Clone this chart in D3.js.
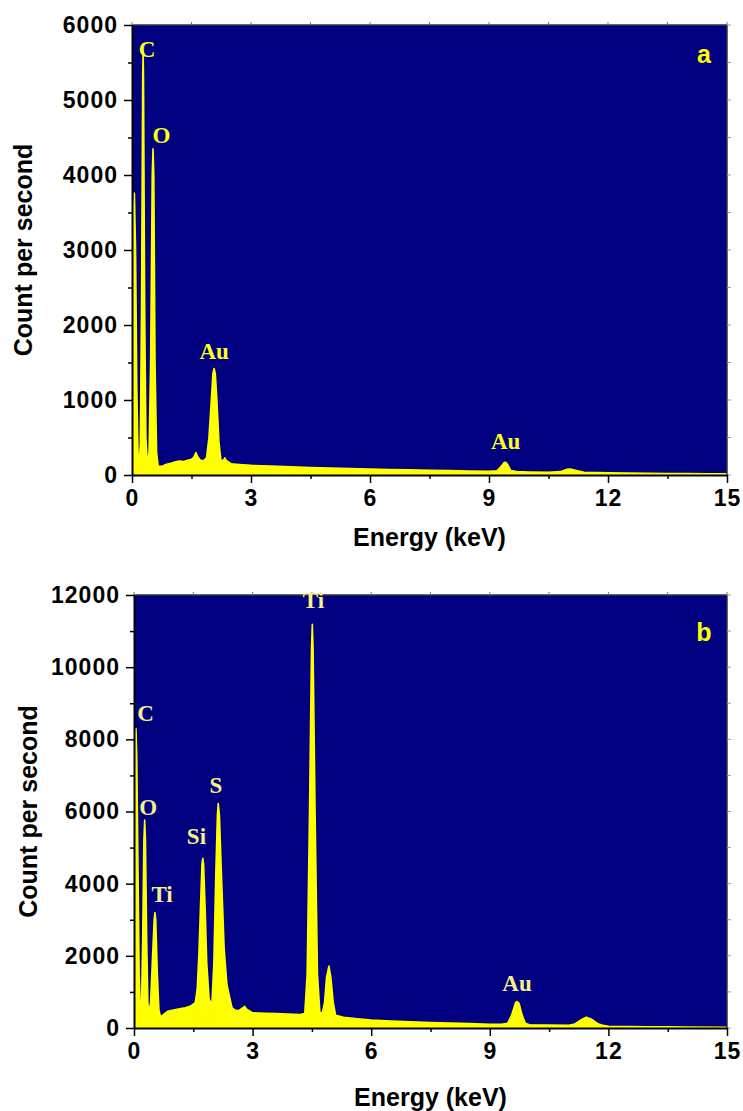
<!DOCTYPE html>
<html>
<head>
<meta charset="utf-8">
<script src="https://cdn.jsdelivr.net/npm/d3@7"></script>
<style>
  body { margin: 0; background: #fff; }
  svg text { font-family: "Liberation Sans", Arial, sans-serif; }
</style>
</head>
<body>
<div id="viz"></div>
<script>
// EDS spectra, two panels.

// panel a: energy (keV) and counts per second
const energyA = [0.00, 0.03, 0.06, 0.09, 0.12, 0.15, 0.18, 0.21, 0.24, 0.27, 0.28, 0.29, 0.32, 0.35, 0.39,
  0.43, 0.47, 0.51, 0.53, 0.55, 0.58, 0.62, 0.66, 0.75, 0.85, 1.0, 1.1, 1.2, 1.3, 1.4, 1.5, 1.56, 1.61, 1.66,
  1.72, 1.8, 1.88, 1.94, 2.0, 2.04, 2.07, 2.10, 2.14, 2.19, 2.24, 2.30, 2.34, 2.38, 2.5, 2.7, 3.0, 3.5, 4.0,
  4.5, 5.0, 5.5, 6.0, 6.5, 7.0, 7.5, 8.0, 8.5, 9.0, 9.2, 9.3, 9.38, 9.42, 9.47, 9.55, 9.7, 10.0, 10.5, 10.8,
  10.95, 11.05, 11.2, 11.4, 12.0, 12.5, 13.0, 13.5, 14.0, 14.5, 15.0];
const countA = [2800, 3400, 3760, 3000, 1200, 300, 160, 400, 2200, 5300, 5650, 5300, 2200, 500, 130,
  300, 1500, 4000, 4350, 4000, 1500, 300, 120, 115, 140, 160, 175, 185, 180, 195, 210, 240, 300, 240,
  200, 190, 230, 500, 1000, 1350, 1420, 1350, 1000, 450, 200, 190, 230, 190, 150, 140, 128, 118, 110,
  100, 92, 85, 78, 72, 68, 62, 58, 53, 50, 55, 110, 165, 170, 140, 60, 45, 40, 35, 45,
  75, 80, 60, 35, 30, 26, 24, 20, 18, 16, 15];

// panel b
const energyB = [0.00, 0.03, 0.05, 0.07, 0.10, 0.13, 0.16, 0.19, 0.22, 0.25, 0.27, 0.29, 0.32, 0.35, 0.38,
  0.42, 0.47, 0.51, 0.53, 0.55, 0.59, 0.63, 0.67, 0.75, 0.85, 1.0, 1.15, 1.3, 1.45, 1.55, 1.60, 1.64, 1.68,
  1.72, 1.74, 1.76, 1.80, 1.84, 1.90, 1.97, 2.02, 2.07, 2.11, 2.13, 2.16, 2.21, 2.28, 2.35, 2.43, 2.48, 2.55,
  2.65, 2.75, 2.80, 2.85, 3.0, 3.3, 3.6, 3.9, 4.2, 4.32, 4.38, 4.44, 4.49, 4.51, 4.53, 4.58, 4.64, 4.70,
  4.76, 4.82, 4.87, 4.93, 4.98, 5.04, 5.10, 5.3, 5.6, 6.0, 6.5, 7.0, 7.5, 8.0, 8.5, 9.0, 9.3, 9.45, 9.55,
  9.65, 9.69, 9.74, 9.82, 9.9, 10.0, 10.5, 11.0, 11.15, 11.3, 11.44, 11.58, 11.75, 11.9, 12.0, 12.5, 13.0,
  13.5, 14.0, 15.0];
const countB = [6000, 7800, 8300, 7500, 4500, 1500, 450, 600, 2500, 5200, 5760, 5200, 2500, 700, 440,
  700, 2000, 3000, 3200, 3000, 1500, 500, 300, 380, 460, 500, 530, 560, 620, 700, 1100, 2000, 3300,
  4550, 4700, 4550, 3300, 1800, 800, 640, 1800, 4300, 5900, 6220, 5900, 4300, 2200, 1200, 800, 560, 500,
  480, 560, 600, 520, 420, 410, 400, 390, 370, 400, 1500, 6000, 10500, 11190, 10500, 6000, 1500, 450,
  400, 700, 1400, 1717, 1400, 700, 350, 300, 260, 220, 195, 170, 150, 135, 120, 105, 100, 130, 350,
  700, 730, 680, 350, 130, 90, 80, 75, 110, 220, 300, 240, 110, 65, 45, 40, 35,
  30, 25, 20];

// peak labels
const labelsA = ["C", "O", "Au", "Au"];
const labelEnergyA = [0.38, 0.74, 2.07, 9.42];
const labelCountA = [5580, 4430, 1550, 350];

const labelsB = ["C", "O", "Ti", "Si", "S", "Ti", "Au"];
const labelEnergyB = [0.29, 0.36, 0.71, 1.58, 2.07, 4.54, 9.69];
const labelCountB = [8500, 5900, 3500, 5100, 6500, 11650, 1030];

// ticks
const xTicks = [0, 3, 6, 9, 12, 15];
const xMinor = [1.5, 4.5, 7.5, 10.5, 13.5];
const yTicksA = [0, 1000, 2000, 3000, 4000, 5000, 6000];
const yMinorA = [500, 1500, 2500, 3500, 4500, 5500];
const yTicksB = [0, 2000, 4000, 6000, 8000, 10000, 12000];
const yMinorB = [1000, 3000, 5000, 7000, 9000, 11000];

const svg = d3.select("#viz").append("svg")
  .attr("width", 743)
  .attr("height", 1111);

function drawPanel(p) {
  const x = d3.scaleLinear().domain([0, 15]).range([p.left, p.right]);
  const y = d3.scaleLinear().domain([0, p.ymax]).range([p.bottom, p.top]);
  const g = svg.append("g");

  //plot background
  g.append("rect")
    .attr("x", p.left).attr("y", p.top)
    .attr("width", p.right - p.left).attr("height", p.bottom - p.top)
    .attr("fill", "#000080");

  g.append("clipPath").attr("id", "clip" + p.id)
    .append("rect")
    .attr("x", p.left).attr("y", p.top)
    .attr("width", p.right - p.left).attr("height", p.bottom - p.top);

  const pts = p.energy.map((e, i) => [e, p.count[i]]);
  const area = d3.area()
    .x(d => x(d[0]))
    .y0(y(0))
    .y1(d => y(d[1]));
  g.append("path")
    .datum(pts)
    .attr("clip-path", `url(#clip${p.id})`)
    .attr("d", area)
    .attr("fill", "#ffff00")
    .attr("stroke", "#ffff00")
    .attr("stroke-width", 1.6)
    .attr("stroke-linejoin", "round");

  //top and right frame with small ticks
  g.append("line").attr("x1", p.left).attr("x2", p.right).attr("y1", p.top).attr("y2", p.top)
    .attr("stroke", "#333").attr("stroke-width", 1.5);
  g.append("line").attr("x1", p.right).attr("x2", p.right).attr("y1", p.top).attr("y2", p.bottom)
    .attr("stroke", "#333").attr("stroke-width", 1.5);
  g.selectAll(".rtick").data(p.yTicks.concat(p.yMinor)).enter().append("line")
    .attr("x1", p.right).attr("x2", p.right + 4)
    .attr("y1", d => y(d)).attr("y2", d => y(d))
    .attr("stroke", "#999").attr("stroke-width", 1);
  g.selectAll(".ttick").data(xTicks.concat(xMinor)).enter().append("line")
    .attr("x1", d => x(d)).attr("x2", d => x(d))
    .attr("y1", p.top).attr("y2", p.top - 3)
    .attr("stroke", "#777").attr("stroke-width", 1);

  //bottom axis
  const xAxis = g.append("g")
    .attr("transform", `translate(0,${p.bottom})`)
    .call(d3.axisBottom(x).tickValues(xTicks).tickSize(8).tickPadding(7).tickSizeOuter(0));
  g.append("g")
    .attr("transform", `translate(0,${p.bottom})`)
    .call(d3.axisBottom(x).tickValues(xMinor).tickSize(4).tickFormat("").tickSizeOuter(0))
    .select(".domain").remove();

  //left axis
  const yAxis = g.append("g")
    .attr("transform", `translate(${p.left},0)`)
    .call(d3.axisLeft(y).tickValues(p.yTicks).tickFormat(d3.format("d"))
      .tickSize(8).tickPadding(6).tickSizeOuter(0));
  g.append("g")
    .attr("transform", `translate(${p.left},0)`)
    .call(d3.axisLeft(y).tickValues(p.yMinor).tickSize(4).tickFormat("").tickSizeOuter(0))
    .select(".domain").remove();

  g.selectAll(".domain").attr("stroke", "#000").attr("stroke-width", 2);
  g.selectAll(".tick line").attr("stroke", "#000").attr("stroke-width", 1.5);

  xAxis.selectAll("text")
    .style("font-size", "23px").style("font-weight", "bold")
    .style("letter-spacing", "1px").attr("fill", "#000");
  yAxis.selectAll("text")
    .style("font-size", "23px").style("font-weight", "bold")
    .style("letter-spacing", "1px").attr("fill", "#000");

  //axis titles
  g.append("text")
    .attr("transform", `translate(${p.ytitleX},${(p.top + p.bottom) / 2}) rotate(-90)`)
    .attr("text-anchor", "middle")
    .style("font-size", "25px").style("font-weight", "bold")
    .text("Count per second");
  g.append("text")
    .attr("x", (p.left + p.right) / 2)
    .attr("y", p.xtitleY)
    .attr("text-anchor", "middle")
    .style("font-size", "25px").style("font-weight", "bold")
    .text("Energy (keV)");

  //peak labels
  g.selectAll(".peak").data(p.labels).enter().append("text")
    .attr("x", (d, i) => x(p.labelE[i]))
    .attr("y", (d, i) => y(p.labelC[i]))
    .attr("text-anchor", "middle")
    .style("font-family", "'Liberation Serif', 'Times New Roman', serif")
    .style("font-size", "23px").style("font-weight", "bold")
    .attr("fill", p.labelColor)
    .text(d => d);

  //panel letter
  g.append("text")
    .attr("x", 704).attr("y", p.letterY)
    .attr("text-anchor", "middle")
    .style("font-size", "25px").style("font-weight", "bold")
    .attr("fill", "#ffff00")
    .text(p.letter);
}

drawPanel({
  id: "a", left: 132, right: 727, top: 25, bottom: 475, ymax: 6000,
  energy: energyA, count: countA, yTicks: yTicksA, yMinor: yMinorA,
  labels: labelsA, labelE: labelEnergyA, labelC: labelCountA, labelColor: "#ffff1a",
  ytitleX: 32, xtitleY: 546, letter: "a", letterY: 63
});

drawPanel({
  id: "b", left: 134, right: 727, top: 595, bottom: 1028, ymax: 12000,
  energy: energyB, count: countB, yTicks: yTicksB, yMinor: yMinorB,
  labels: labelsB, labelE: labelEnergyB, labelC: labelCountB, labelColor: "#f6f08a",
  ytitleX: 37, xtitleY: 1106, letter: "b", letterY: 641
});
</script>
</body>
</html>
